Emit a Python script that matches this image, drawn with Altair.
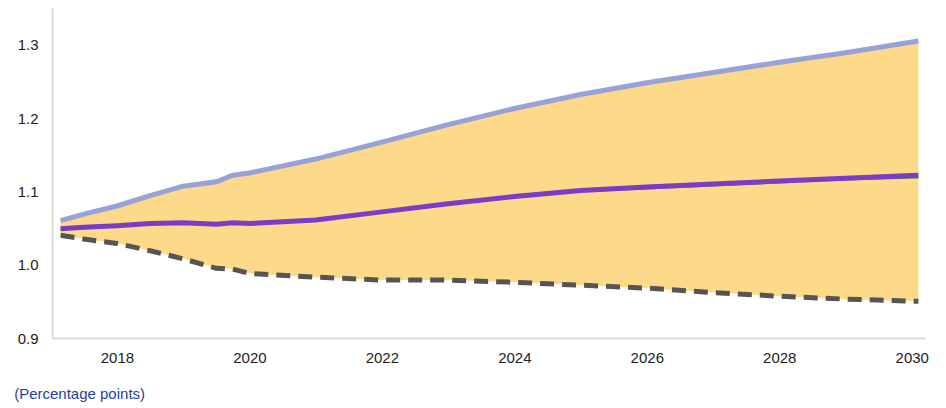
import altair as alt
import pandas as pd

years = [2017.15, 2017.5, 2018, 2018.5, 2019, 2019.5, 2019.75, 2020, 2021, 2022,
         2023, 2024, 2025, 2026, 2027, 2028, 2029, 2030.1]
upper = [1.060, 1.069, 1.080, 1.094, 1.107, 1.113, 1.122, 1.125, 1.144, 1.167,
         1.191, 1.213, 1.232, 1.248, 1.262, 1.276, 1.289, 1.305]
middle = [1.049, 1.051, 1.053, 1.056, 1.057, 1.055, 1.057, 1.056, 1.061, 1.072,
          1.083, 1.093, 1.101, 1.106, 1.110, 1.114, 1.118, 1.122]
green = [1.048, 1.050, 1.052, 1.055, 1.056, 1.054, 1.056, 1.055, 1.060, 1.071,
         1.082, 1.092, 1.100, 1.104, 1.108, 1.112, 1.116, 1.119]
lower = [1.040, 1.035, 1.029, 1.019, 1.008, 0.995, 0.994, 0.988, 0.983, 0.979,
         0.979, 0.976, 0.972, 0.968, 0.962, 0.957, 0.953, 0.950]

df = pd.DataFrame({'year': years, 'upper': upper, 'middle': middle,
                   'green': green, 'lower': lower})

x = alt.X('year:Q', scale=alt.Scale(domain=[2017.02, 2030.2], nice=False, zero=False),
          axis=alt.Axis(values=list(range(2018, 2031, 2)), format='d', title=None,
                        grid=False, ticks=False, labelPadding=12))
yscale = alt.Scale(domain=[0.9, 1.35], nice=False, zero=False)
yaxis = alt.Axis(values=[0.9, 1.0, 1.1, 1.2, 1.3], format='.1f', title=None,
                 grid=False, ticks=False, labelPadding=14)

base = alt.Chart(df)
band = base.mark_area(color='#FDD98A', opacity=1).encode(
    x=x, y=alt.Y('lower:Q', scale=yscale, axis=yaxis), y2='upper:Q')
up = base.mark_line(color='#98A2D6', strokeWidth=5).encode(x=x, y=alt.Y('upper:Q', scale=yscale))
lo = base.mark_line(color='#555555', strokeWidth=5, strokeDash=[14, 8]).encode(
    x=x, y=alt.Y('lower:Q', scale=yscale))
gr = base.mark_line(color='#4A9A2A', strokeWidth=2).encode(x=x, y=alt.Y('green:Q', scale=yscale))
mid = base.mark_line(color='#7B3CC8', strokeWidth=5).encode(x=x, y=alt.Y('middle:Q', scale=yscale))

chart = alt.layer(band, up, lo, gr, mid).properties(
    width=873, height=330,
    autosize=alt.AutoSizeParams(type='none'),
    padding={'left': 44, 'top': 0, 'right': 5, 'bottom': 66},
    title=alt.TitleParams('(Percentage points)', orient='bottom', anchor='start',
                          color='#1F3FA0', fontSize=15, fontWeight='normal',
                          font='Liberation Sans', offset=22, dx=-3)
).configure_axis(
    labelFont='Liberation Sans', labelFontSize=15, labelColor='#222222',
    domainColor='#D9D9D9', domainWidth=2
).configure_view(stroke=None)

chart.save("out.html", embed_options={"renderer": "svg", "actions": False})
